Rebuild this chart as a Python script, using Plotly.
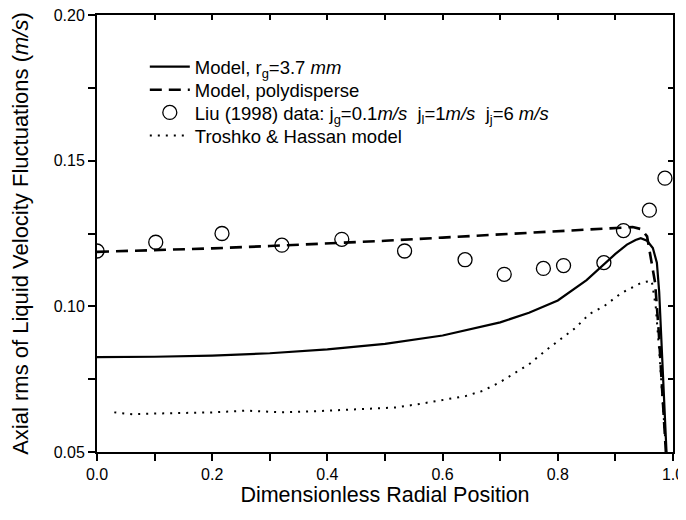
import plotly.graph_objects as go

# ---- data ----
liu_x = [0.0, 0.102, 0.217, 0.321, 0.425, 0.534, 0.639, 0.707, 0.775, 0.810, 0.880, 0.914, 0.959, 0.986]
liu_y = [0.119, 0.122, 0.125, 0.121, 0.123, 0.119, 0.116, 0.111, 0.113, 0.114, 0.115, 0.126, 0.133, 0.144]

mono_x = [0, 0.1, 0.2, 0.3, 0.4, 0.5, 0.6, 0.7, 0.75, 0.8, 0.85, 0.88, 0.9, 0.92, 0.935, 0.944,
          0.955, 0.965, 0.972, 0.976, 0.980, 0.984, 0.988, 0.991]
mono_y = [0.0826, 0.0827, 0.0831, 0.0839, 0.0852, 0.0871, 0.0900, 0.0945, 0.0978, 0.1020, 0.1090,
          0.1145, 0.1180, 0.1212, 0.1228, 0.1234, 0.1225, 0.1200, 0.1150, 0.1050, 0.0880, 0.0700,
          0.0520, 0.0400]

poly_x = [0, 0.1, 0.2, 0.3, 0.4, 0.5, 0.6, 0.7, 0.8, 0.9, 0.93, 0.945, 0.955, 0.962, 0.969,
          0.975, 0.980, 0.985, 0.990]
poly_y = [0.1187, 0.1192, 0.1199, 0.1207, 0.1215, 0.1225, 0.1236, 0.1247, 0.1258, 0.1270, 0.1272,
          0.1265, 0.1240, 0.1160, 0.1080, 0.0920, 0.0760, 0.0590, 0.0420]

th_x = [0.03, 0.06, 0.1, 0.15, 0.2, 0.26, 0.32, 0.38, 0.45, 0.52, 0.56, 0.6, 0.64, 0.67, 0.70,
        0.73, 0.75, 0.78, 0.81, 0.83, 0.855, 0.88, 0.91, 0.93, 0.945, 0.963, 0.970, 0.976, 0.982, 0.988]
th_y = [0.0636, 0.0630, 0.0632, 0.0634, 0.0636, 0.0642, 0.0636, 0.0640, 0.0647, 0.0653, 0.0665,
        0.0678, 0.0692, 0.0710, 0.0740, 0.0777, 0.0801, 0.0850, 0.0896, 0.0925, 0.0974, 0.1000,
        0.1045, 0.1065, 0.1081, 0.1088, 0.1000, 0.0850, 0.0680, 0.0500]

# tick positions (every tick) and labels (blank on the minor ones)
x_tickvals = [0.0, 0.1, 0.2, 0.3, 0.4, 0.5, 0.6, 0.7, 0.8, 0.9, 1.0]
x_ticktext = ["0.0", "", "0.2", "", "0.4", "", "0.6", "", "0.8", "", "1.0"]
y_tickvals = [0.05, 0.075, 0.10, 0.125, 0.15, 0.175, 0.20]
y_ticktext = ["0.05", "", "0.10", "", "0.15", "", "0.20"]

x_title = "Dimensionless Radial Position"
y_title = "Axial rms of Liquid Velocity Fluctuations (<i>m/s</i>)"

FONT = "Liberation Sans, Arial, sans-serif"

fig = go.Figure()
fig.add_trace(go.Scatter(x=mono_x, y=mono_y, mode="lines", legend="legend",
                         name="Model, r<sub>g</sub>=3.7 <i>mm</i>",
                         line=dict(color="black", width=2.2)))
fig.add_trace(go.Scatter(x=poly_x, y=poly_y, mode="lines", legend="legend2",
                         name="Model, polydisperse",
                         line=dict(color="black", width=2.6, dash="12px,7px")))
fig.add_trace(go.Scatter(x=liu_x, y=liu_y, mode="markers", legend="legend3",
                         name="Liu (1998) data: j<sub>g</sub>=0.1<i>m/s</i>  j<sub>l</sub>=1<i>m/s</i>  j<sub>j</sub>=6 <i>m/s</i>",
                         marker=dict(symbol="circle-open", size=14, color="black",
                                     line=dict(width=1.3, color="black"))))
fig.add_trace(go.Scatter(x=th_x, y=th_y, mode="lines", legend="legend4",
                         name="Troshko & Hassan model",
                         line=dict(color="black", width=2, dash="2px,6px")))
# empty trace to realise the mirrored top/right axes (inward ticks)
fig.add_trace(go.Scatter(x=[], y=[], xaxis="x2", yaxis="y2", showlegend=False, hoverinfo="skip"))

axis_common = dict(showgrid=False, zeroline=False, showline=True, mirror=False,
                   linecolor="black", linewidth=2, automargin=False,
                   tickcolor="#000000", tickwidth=2)


def leg(yp):
    return dict(x=0.083, y=yp, xanchor="left", yanchor="middle",
                bgcolor="rgba(0,0,0,0)", borderwidth=0,
                font=dict(size=18.5, family=FONT), itemwidth=40)


# page body has an 8px margin: shrink the figure so the plot area lands where the reference has it
fig.update_layout(
    template="simple_white",
    width=678, height=512,
    margin=dict(l=89, r=13, t=7, b=68, autoexpand=False),
    paper_bgcolor="white", plot_bgcolor="white",
    font=dict(family=FONT, color="black", size=16),
    showlegend=True,
    legend=leg(0.881), legend2=leg(0.828), legend3=leg(0.776), legend4=leg(0.723),
    xaxis=dict(range=[0, 1], tickmode="array", tickvals=x_tickvals, ticktext=x_ticktext,
               ticks="outside", ticklen=7,
               tickfont=dict(size=16), ticklabeloverflow="allow",
               title=dict(text=x_title, font=dict(size=21.5), standoff=5),
               **axis_common),
    yaxis=dict(range=[0.05, 0.20], tickmode="array", tickvals=y_tickvals, ticktext=y_ticktext,
               ticks="outside", ticklen=7,
               tickfont=dict(size=16), ticklabeloverflow="allow",
               title=dict(text=y_title, font=dict(size=22), standoff=21),
               **axis_common),
    xaxis2=dict(range=[0, 1], tickmode="array", tickvals=x_tickvals, overlaying="x", side="top",
                anchor="y2", ticks="inside", ticklen=5, showticklabels=False,
                **axis_common),
    yaxis2=dict(range=[0.05, 0.20], tickmode="array", tickvals=y_tickvals, overlaying="y", side="right",
                anchor="x2", ticks="inside", ticklen=5, showticklabels=False,
                **axis_common),
)

fig.write_html("out.html")
